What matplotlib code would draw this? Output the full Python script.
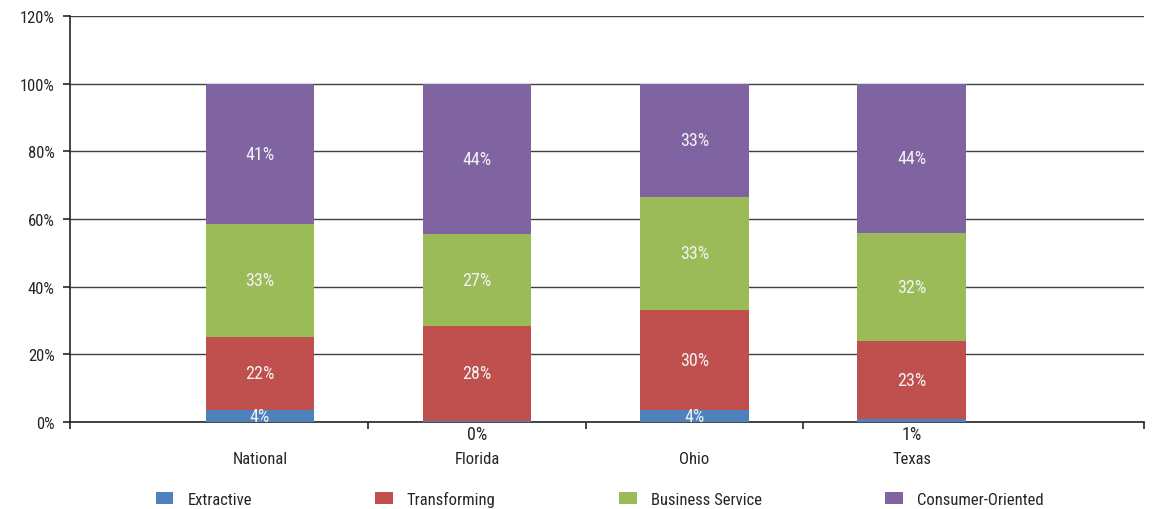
import matplotlib.pyplot as plt
import numpy as np

# sector shares by region (percent of total)
regions = ['National', 'Florida', 'Ohio', 'Texas']
sectors = ['Extractive', 'Transforming', 'Business Service', 'Consumer-Oriented']
extractive = [3.6, 0.3, 3.6, 0.9]
transforming = [21.6, 28.1, 29.6, 23.1]
business = [33.4, 27.2, 33.4, 32.0]
consumer = [41.4, 44.4, 33.4, 44.0]
colors = ['#4F81BD', '#C0504D', '#9BBB59', '#8064A2']

plt.rcParams['font.family'] = ['Roboto Condensed', 'Liberation Sans Narrow', 'DejaVu Sans']
text_color = '#262626'
fs = 12

fig = plt.figure(figsize=(11.53, 5.10), dpi=100)
ax = fig.add_axes([0.0607, 0.1706, 0.9315, 0.7961])

x = np.arange(len(regions))
bottom = np.zeros(len(regions))
for name, vals, col in zip(sectors, [extractive, transforming, business, consumer], colors):
    vals = np.array(vals)
    ax.bar(x, vals, width=0.5, bottom=bottom, color=col, label=name, zorder=3)
    for xi, b, v in zip(x, bottom, vals):
        if v < 2:
            # tiny slices get their label under the axis
            ax.text(xi, -0.9, f'{v:.0f}%', ha='center', va='top', fontsize=13,
                    color=text_color, clip_on=False)
        else:
            ax.text(xi, b + v / 2, f'{v:.0f}%', ha='center', va='center',
                    fontsize=13, color='#F2F2F2', zorder=4)
    bottom += vals

ax.set_xlim(-0.874, 4.07)
ax.set_ylim(0, 120)
ax.set_yticks(np.arange(0, 121, 20))
ax.set_yticklabels([f'{v}%' for v in range(0, 121, 20)], fontsize=fs, color=text_color)
ax.yaxis.grid(True, color='#404040', linewidth=1.0, zorder=0)
ax.set_axisbelow(True)

ax.set_xticks(x)
ax.set_xticklabels(regions, fontsize=fs, color=text_color)
ax.tick_params(axis='x', which='major', length=0, pad=21)
ax.set_xticks([-0.874, 0.5, 1.5, 2.5, 4.07], minor=True)
ax.tick_params(axis='x', which='minor', length=5, width=1.2, color='#262626')
ax.tick_params(axis='y', length=5, width=1.2, color='#262626', pad=6)

for s in ['top', 'right']:
    ax.spines[s].set_visible(False)
for s in ['left', 'bottom']:
    ax.spines[s].set_color('#262626')
    ax.spines[s].set_linewidth(1.2)

handles, labels = ax.get_legend_handles_labels()
leg = fig.legend(handles, labels, loc='center', bbox_to_anchor=(0.520, 0.02), ncol=4,
                 frameon=False, fontsize=fs, handlelength=1.05, handleheight=0.7,
                 handletextpad=0.85, columnspacing=7.4)
for t in leg.get_texts():
    t.set_color(text_color)

fig.savefig('out.png', dpi=100)
